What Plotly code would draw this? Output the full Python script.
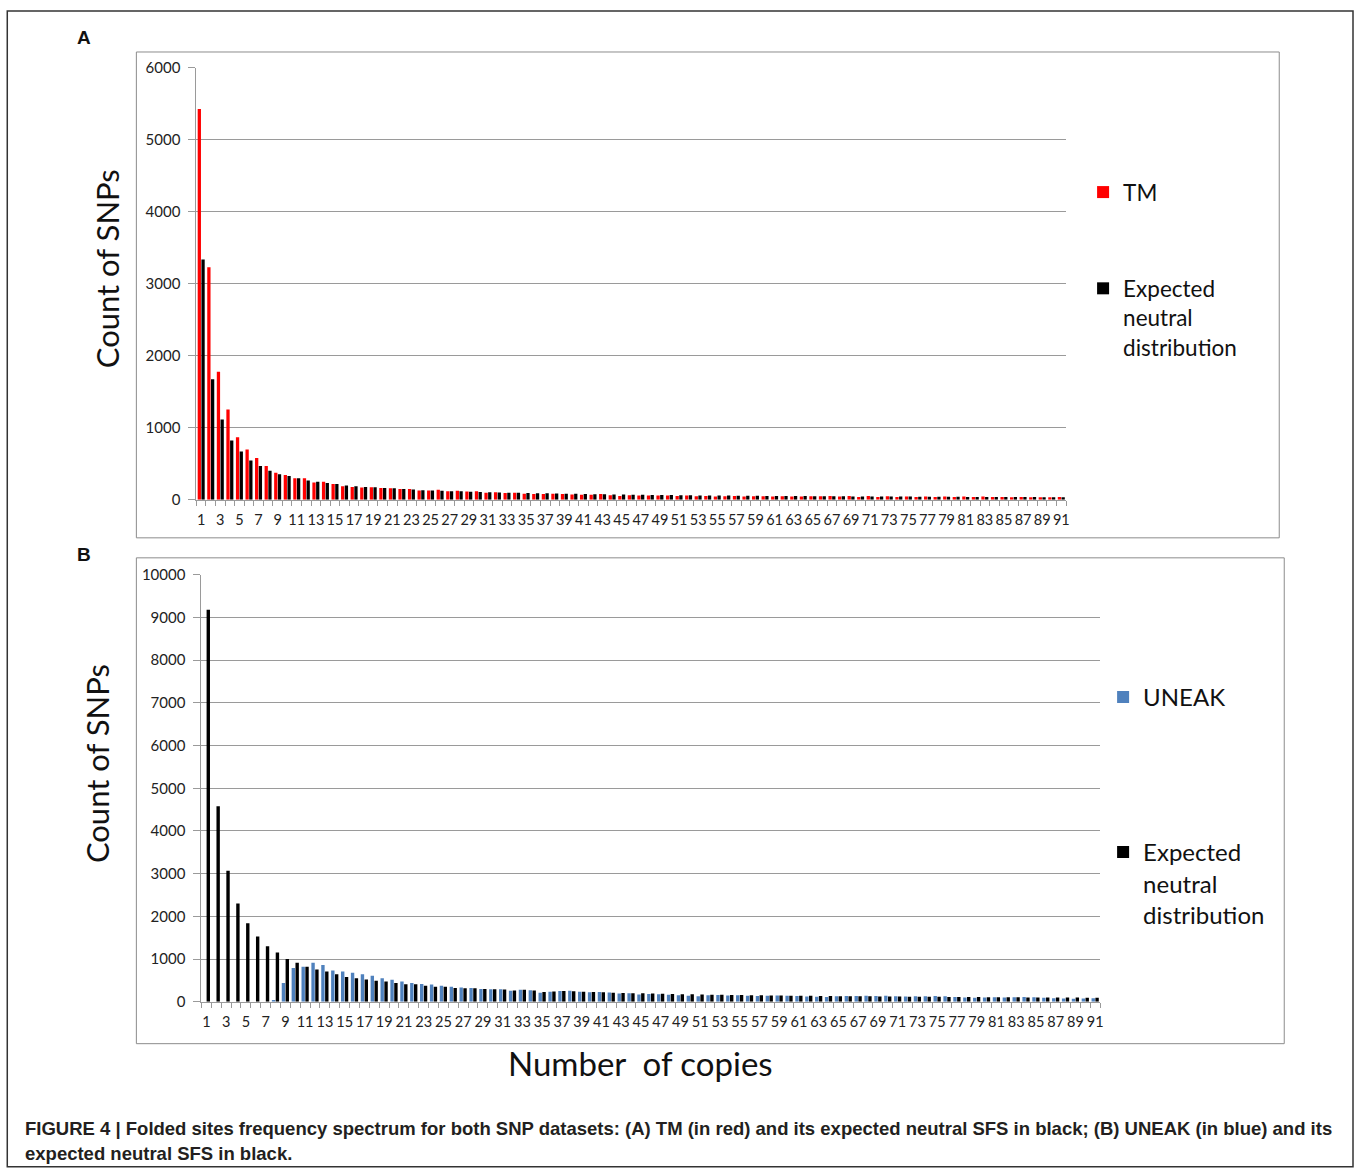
import plotly.graph_objects as go

W = 1358
HF = 1176   # figure height

# renderer mapping (measured): out = AX*fig + BX, out = AY*fig + BY
AX, BX = 0.9963, 0.73
AY, BY = 0.985, 9.0

copies = list(range(1, 92))
tick_labels = [str(i) for i in range(1, 92, 2)]

tm = [5430, 3230, 1780, 1255, 870, 700, 580, 470, 375, 345,
      300, 300, 240, 250, 220, 190, 180, 170, 175, 165,
      160, 150, 150, 130, 130, 140, 120, 125, 115, 120,
      100, 105, 95, 100, 85, 80, 80, 85, 80, 75,
      70, 70, 80, 65, 55, 65, 60, 60, 60, 60,
      55, 60, 50, 55, 45, 50, 55, 45, 50, 50,
      45, 50, 45, 45, 50, 50, 55, 45, 55, 40,
      55, 40, 50, 40, 45, 40, 45, 40, 45, 40,
      45, 40, 45, 40, 40, 35, 40, 35, 35, 35, 40]

exp_a = [3340, 1675, 1115, 825, 670, 545, 470, 405, 355, 330,
         300, 270, 250, 235, 220, 200, 190, 180, 175, 165,
         160, 150, 145, 135, 130, 125, 120, 118, 113, 110,
         106, 102, 100, 97, 94, 92, 90, 87, 85, 83,
         81, 79, 77, 75, 73, 72, 70, 69, 67, 66,
         65, 63, 62, 61, 60, 59, 58, 57, 56, 55,
         55, 54, 53, 52, 51, 50, 50, 49, 48, 48,
         47, 46, 46, 45, 45, 44, 43, 43, 42, 42,
         41, 41, 40, 40, 39, 39, 38, 38, 37, 37, 37]

uneak = [0, 0, 0, 0, 0, 0, 0, 40, 440, 790,
         820, 910, 860, 730, 705, 675, 645, 610, 550, 515,
         470, 440, 415, 405, 375, 350, 335, 320, 300, 290,
         290, 255, 280, 270, 210, 230, 250, 255, 230, 220,
         225, 215, 190, 200, 170, 180, 175, 160, 150, 140,
         130, 150, 155, 145, 150, 140, 135, 140, 145, 140,
         135, 120, 115, 110, 130, 135, 135, 140, 135, 140,
         130, 120, 125, 130, 135, 130, 110, 100, 95, 100,
         105, 100, 105, 110, 105, 90, 80, 75, 70, 75, 80]

exp_b = [9180, 4580, 3070, 2300, 1840, 1530, 1300, 1150, 1000, 910,
         820, 755, 705, 645, 580, 550, 520, 490, 470, 440,
         410, 410, 375, 350, 350, 320, 315, 315, 300, 290,
         285, 260, 280, 260, 225, 240, 250, 245, 230, 225,
         220, 210, 205, 200, 195, 190, 185, 180, 175, 172,
         168, 165, 160, 157, 155, 152, 150, 147, 145, 142,
         140, 137, 135, 132, 130, 128, 126, 125, 123, 121,
         119, 118, 116, 114, 113, 111, 110, 108, 107, 106,
         104, 103, 102, 101, 100, 99, 98, 97, 96, 95, 94]

RED = "#FF0000"
BLACK = "#000000"
BLUE = "#4F81BD"
GRID = "#9A9A9A"
FONT = "Lato"


def px_x(p):
    return min(max(((p - BX) / AX) / W, 0.0), 1.0)


def px_y(p):
    return min(max(1 - ((p - BY) / AY) / HF, 0.0), 1.0)


fig = go.Figure()

fig.add_trace(go.Bar(x=copies, y=tm, name="TM", marker_color=RED,
                     xaxis="x", yaxis="y", legend="legend", legendgroup="a1"))
fig.add_trace(go.Bar(x=copies, y=exp_a, name="Expected<br>neutral<br>distribution",
                     marker_color=BLACK, xaxis="x", yaxis="y",
                     legend="legend", legendgroup="a2"))
fig.add_trace(go.Bar(x=copies, y=uneak, name="UNEAK", marker_color=BLUE,
                     xaxis="x2", yaxis="y2", legend="legend2", legendgroup="b1"))
fig.add_trace(go.Bar(x=copies, y=exp_b, name="Expected<br>neutral<br>distribution",
                     marker_color=BLACK, xaxis="x2", yaxis="y2",
                     legend="legend2", legendgroup="b2"))
fig.update_traces(marker_line_width=0, hoverinfo="skip")

half_ticks = [i + 0.5 for i in range(0, 92)]

xcommon = dict(range=[0.5, 91.5], tickmode="array",
               tickvals=list(range(1, 92, 2)), ticktext=tick_labels,
               ticks="", showgrid=False, zeroline=False,
               showline=True, linecolor=GRID, linewidth=1,
               ticklabelstandoff=7,
               tickfont=dict(family=FONT, size=14.5, color="#222"),
               minor=dict(tickmode="array", tickvals=half_ticks, ticks="outside",
                          ticklen=5, tickcolor=GRID, tickwidth=1, showgrid=False),
               fixedrange=True)
ycommon = dict(showgrid=True, gridcolor=GRID, gridwidth=1, zeroline=False,
               showline=True, linecolor=GRID, linewidth=1,
               ticks="outside", ticklen=7, tickcolor=GRID, tickformat="d",
               ticklabelstandoff=5,
               tickfont=dict(family=FONT, size=15, color="#222"),
               fixedrange=True)

fig.update_layout(
    width=W, height=HF,
    margin=dict(l=0, r=0, t=0, b=0),
    paper_bgcolor="white", plot_bgcolor="white",
    barmode="group", bargap=0.22, bargroupgap=0.12,
    font=dict(family=FONT, color="#111"),
    xaxis=dict(domain=[px_x(197), px_x(1066)], anchor="y", **xcommon),
    yaxis=dict(domain=[px_y(499), px_y(67)], anchor="x", range=[0, 6000],
               dtick=1000, **ycommon),
    xaxis2=dict(domain=[px_x(202), px_x(1100)], anchor="y2", **xcommon),
    yaxis2=dict(domain=[px_y(1001), px_y(574)], anchor="x2", range=[0, 10000],
                dtick=1000, **ycommon),
    legend=dict(x=px_x(1083), y=px_y(170), xanchor="left", yanchor="top",
                bgcolor="rgba(0,0,0,0)", traceorder="grouped",
                tracegroupgap=64, valign="top",
                font=dict(family=FONT, size=22.5, color="#111")),
    legend2=dict(x=px_x(1103), y=px_y(674), xanchor="left", yanchor="top",
                 bgcolor="rgba(0,0,0,0)", traceorder="grouped",
                 tracegroupgap=121, valign="top",
                 font=dict(family=FONT, size=24, color="#111")),
)

shapes = [
    dict(type="rect", xref="paper", yref="paper",
         x0=px_x(8), x1=min(px_x(1355), 1 - 1.0 / W), y0=px_y(1166), y1=1 - 1.0 / HF,
         line=dict(color="#333", width=1.5)),
    dict(type="rect", xref="paper", yref="paper",
         x0=px_x(137), x1=px_x(1279), y0=px_y(537), y1=px_y(51),
         line=dict(color="#8C8C8C", width=1)),
    dict(type="rect", xref="paper", yref="paper",
         x0=px_x(137), x1=px_x(1284), y0=px_y(1043), y1=px_y(557),
         line=dict(color="#8C8C8C", width=1)),
]
fig.update_layout(shapes=shapes)

ann = [
    dict(text="<b>A</b>", x=px_x(76), y=px_y(37), xanchor="left", yanchor="middle",
         font=dict(family="Liberation Sans", size=19, color="#111")),
    dict(text="<b>B</b>", x=px_x(76), y=px_y(554), xanchor="left", yanchor="middle",
         font=dict(family="Liberation Sans", size=19, color="#111")),
    dict(text="Count of SNPs", x=px_x(108), y=px_y(268), textangle=-90,
         xanchor="center", yanchor="middle",
         font=dict(family=FONT, size=31, color="#111")),
    dict(text="Count of SNPs", x=px_x(97), y=px_y(763), textangle=-90,
         xanchor="center", yanchor="middle",
         font=dict(family=FONT, size=31, color="#111")),
    dict(text="Number  of copies", x=px_x(641), y=px_y(1062),
         xanchor="center", yanchor="middle",
         font=dict(family=FONT, size=33, color="#111")),
    dict(text="<b>FIGURE 4 | Folded sites frequency spectrum for both SNP datasets: (A) TM (in red) and its expected neutral SFS in black; (B) UNEAK (in blue) and its</b>",
         x=px_x(24), y=px_y(1128), xanchor="left", yanchor="middle",
         font=dict(family="Liberation Sans", size=18.5, color="#231F20")),
    dict(text="<b>expected neutral SFS in black.</b>",
         x=px_x(24), y=px_y(1153), xanchor="left", yanchor="middle",
         font=dict(family="Liberation Sans", size=18.5, color="#231F20")),
]
for a in ann:
    a.update(xref="paper", yref="paper", showarrow=False)
fig.update_layout(annotations=ann)

fig.write_html(
    "out.html",
    config={"displayModeBar": False, "staticPlot": True},
    post_script="document.body.style.margin='0';"
                "document.documentElement.style.overflow='hidden';",
)
